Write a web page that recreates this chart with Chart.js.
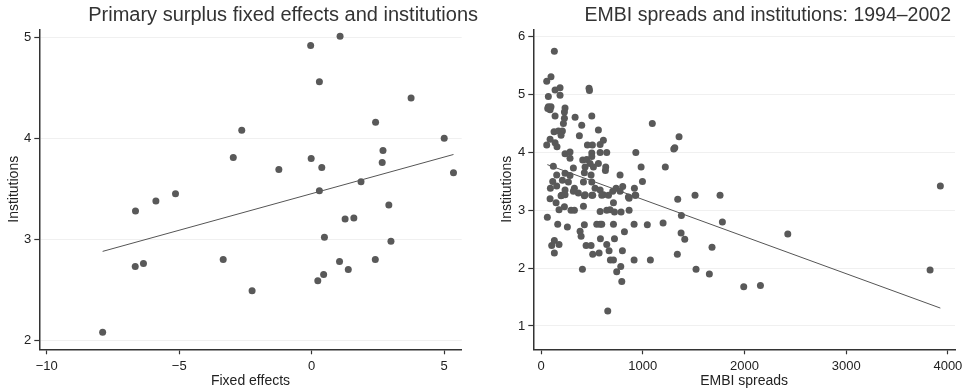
<!DOCTYPE html>
<html>
<head>
<meta charset="utf-8">
<script src="https://cdn.jsdelivr.net/npm/chart.js@4/dist/chart.umd.min.js"></script>
<style>
body { margin: 0; background: #fff; }
.panel { position: absolute; top: 0; width: 485px; height: 392px; }
</style>
</head>
<body>
<div class="panel" style="left:0"><canvas id="left"></canvas></div>
<div class="panel" style="left:485px"><canvas id="right"></canvas></div>
<script>
// left panel: primary surplus fixed effects
const fixedEffects = [-0.04, 1.07, 0.29, 3.75, 2.41, -2.64, 5.0, 2.69, -2.96, -0.02, 0.38, 2.66, -1.24, 5.35, 1.86, 0.29, -5.14, -5.88, -6.65, 1.26, 1.59, 2.91, 0.48, 2.99, -6.66, -6.35, -3.34, 1.05, 2.40, 1.38, 0.45, 0.23, -2.25, -7.89];
const instLeft = [4.92, 5.01, 4.56, 4.40, 4.16, 4.08, 4.00, 3.88, 3.81, 3.80, 3.71, 3.76, 3.69, 3.66, 3.57, 3.48, 3.45, 3.38, 3.28, 3.20, 3.21, 3.34, 3.02, 2.98, 2.73, 2.76, 2.80, 2.78, 2.80, 2.70, 2.65, 2.59, 2.49, 2.08];
const fitLeftX = [-7.89, 5.35];
const fitLeftY = [2.88, 3.84];
const xTicksLeft = [-10, -5, 0, 5];
const yTicksLeft = [2, 3, 4, 5];

// right panel: EMBI spreads 1994-2002
const embiSpreads = [
  131, 98, 56, 138, 187, 72, 187, 472, 476, 72, 98, 89, 66, 236, 230, 138, 335, 499, 230, 220,
  400, 128, 171, 210, 197, 377, 564, 89, 138, 56, 157, 456, 505, 613, 581, 236, 285, 499, 581, 646,
  932, 285, 410, 449, 499, 482, 564, 121, 318, 433, 515, 636, 633, 984, 236, 154, 285, 426, 492, 777,
  115, 210, 269, 417, 499, 997, 92, 154, 236, 328, 367, 531, 581, 738, 803, 918, 203, 426, 499, 613,
  705, 859, 925,
  89, 148, 197, 236, 318, 433, 508, 597, 663, 777, 866, 931, 177, 230, 295, 328, 417, 581, 646, 679,
  712, 722, 787, 866, 62, 164, 259, 426, 548, 581, 597, 712, 915, 820, 384, 394, 584, 722, 105, 131,
  177, 443, 492, 646, 669, 800, 131, 508, 571, 682, 712, 915, 407, 744, 784, 794,
  1094, 1357, 1305, 1315, 1222, 3926, 1514, 1760, 1344, 1380, 1783, 1200, 1045, 1377, 1413, 2426, 1681, 1340, 1075, 1524,
  1655, 1993, 2157, 3825, 656
];
const instRight = [
  5.75, 5.31, 5.23, 5.08, 5.12, 4.97, 4.99, 5.11, 5.07, 4.79, 4.79, 4.74, 4.76, 4.77, 4.70, 4.63, 4.61, 4.63, 4.59, 4.50,
  4.47, 4.36, 4.37, 4.37, 4.30, 4.29, 4.39, 4.23, 4.17, 4.13, 4.10, 4.13, 4.13, 4.21, 4.14, 3.98, 4.01, 3.99, 4.00, 4.00,
  4.00, 3.90, 3.87, 3.88, 3.93, 3.81, 3.81, 3.76, 3.73, 3.75, 3.75, 3.75, 3.69, 3.75, 3.64, 3.61, 3.60, 3.65, 3.61, 3.61,
  3.50, 3.52, 3.49, 3.49, 3.49, 3.50, 3.38, 3.42, 3.35, 3.38, 3.30, 3.38, 3.35, 3.38, 3.41, 3.38, 3.26, 3.25, 3.26, 3.27,
  3.33, 3.23, 3.26,
  3.20, 3.13, 3.25, 3.27, 3.33, 3.27, 3.26, 3.26, 3.26, 3.33, 3.21, 3.26, 3.01, 3.06, 3.00, 3.00, 3.07, 2.98, 3.00, 3.01,
  3.13, 2.97, 2.97, 3.00, 2.88, 2.76, 2.71, 2.75, 2.76, 2.76, 2.76, 2.76, 2.76, 2.63, 2.64, 2.55, 2.51, 2.51, 2.39, 2.48,
  2.41, 2.39, 2.39, 2.41, 2.30, 2.30, 2.26, 2.24, 2.26, 2.14, 2.14, 2.14, 1.98, 1.94, 2.03, 1.77,
  4.50, 4.27, 4.06, 4.08, 3.75, 3.42, 3.26, 3.26, 3.19, 2.91, 2.80, 2.78, 2.75, 2.61, 2.50, 2.59, 2.36, 2.24, 2.14, 1.98,
  1.90, 1.68, 1.70, 1.97, 1.26
];
const fitRightX = [62, 3926];
const fitRightY = [3.79, 1.31];
const xTicksRight = [0, 1000, 2000, 3000, 4000];
const yTicksRight = [1, 2, 3, 4, 5, 6];

const FONT = '"Liberation Sans", Arial, Helvetica, sans-serif';
const INK = '#333';

// chart title drawn right-aligned like the Stata graph
const panelTitle = {
  id: 'panelTitle',
  afterDraw(chart, args, opts) {
    const ctx = chart.ctx;
    ctx.save();
    ctx.font = opts.size + 'px ' + FONT;
    ctx.fillStyle = INK;
    ctx.textAlign = 'right';
    ctx.textBaseline = 'alphabetic';
    ctx.fillText(opts.text, opts.x, opts.y);
    ctx.restore();
  }
};

function fmt(v) {
  return v < 0 ? '\u2212' + Math.abs(v) : String(v);
}

function makePanel(id, p) {
  const points = p.xs.map((x, i) => ({ x: x, y: p.ys[i] }));
  const fit = p.fitX.map((x, i) => ({ x: x, y: p.fitY[i] }));

  return new Chart(document.getElementById(id), {
    type: 'scatter',
    data: {
      datasets: [
        {
          data: points,
          pointRadius: 3.5,
          pointBackgroundColor: '#595959',
          pointBorderWidth: 0
        },
        {
          type: 'line',
          data: fit,
          borderColor: '#555',
          borderWidth: 1,
          pointRadius: 0
        }
      ]
    },
    plugins: [panelTitle],
    options: {
      responsive: true,
      maintainAspectRatio: false,
      animation: false,
      layout: { padding: { top: 29.3, right: p.padRight, left: 0, bottom: 0 } },
      plugins: {
        legend: { display: false },
        tooltip: { enabled: false },
        panelTitle: { text: p.title, x: p.titleX, y: 21, size: p.titleSize }
      },
      scales: {
        x: {
          type: 'linear',
          min: p.xMin,
          max: p.xMax,
          afterBuildTicks: s => { s.ticks = p.xTicks.map(v => ({ value: v })); },
          afterFit: s => { s.height = 42.7; },
          ticks: { callback: fmt, color: '#222', font: { family: FONT, size: 13 }, padding: 4, maxRotation: 0 },
          grid: { drawOnChartArea: false, tickLength: 5, tickColor: INK, tickWidth: 1.2 },
          border: { color: INK, width: 1.5 },
          title: { display: true, text: p.xTitle, color: '#222', font: { family: FONT, size: 14 }, padding: { top: 0, bottom: 2 } }
        },
        y: {
          type: 'linear',
          min: p.yMin,
          max: p.yMax,
          afterBuildTicks: s => { s.ticks = p.yTicks.map(v => ({ value: v })); },
          afterFit: s => { s.width = p.yWidth; },
          ticks: { callback: fmt, color: '#222', font: { family: FONT, size: 13 }, padding: 3 },
          grid: { color: '#f0f0f0', tickLength: 5, tickColor: INK, tickWidth: 1.2 },
          border: { color: INK, width: 1.5 },
          title: { display: true, text: 'Institutions', color: '#222', font: { family: FONT, size: 14 }, padding: p.yTitlePad }
        }
      }
    }
  });
}

makePanel('left', {
  xs: fixedEffects, ys: instLeft, fitX: fitLeftX, fitY: fitLeftY,
  xTicks: xTicksLeft, yTicks: yTicksLeft,
  xMin: -10.28, xMax: 5.66, yMin: 1.91, yMax: 5.08,
  xTitle: 'Fixed effects',
  title: 'Primary surplus fixed effects and institutions', titleX: 478, titleSize: 20,
  padRight: 23.3, yWidth: 39.3, yTitlePad: { top: 6, bottom: 0 }
});

makePanel('right', {
  xs: embiSpreads, ys: instRight, fitX: fitRightX, fitY: fitRightY,
  xTicks: xTicksRight, yTicks: yTicksRight,
  xMin: -76, xMax: 4070, yMin: 0.597, yMax: 6.13,
  xTitle: 'EMBI spreads',
  title: 'EMBI spreads and institutions: 1994\u20132002', titleX: 466, titleSize: 19.5,
  padRight: 15, yWidth: 48.3, yTitlePad: { top: 14, bottom: 0 }
});
</script>
</body>
</html>
